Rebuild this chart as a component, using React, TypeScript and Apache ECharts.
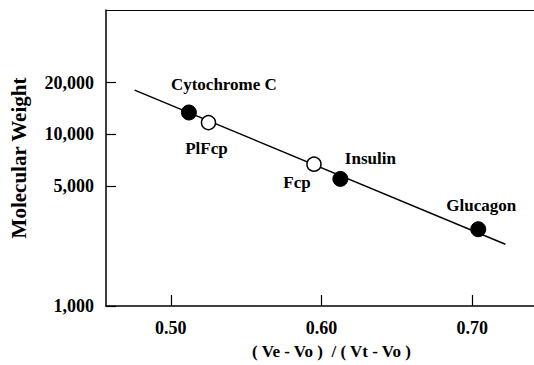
import React, { useEffect, useRef } from "react";
import * as echarts from "echarts";

// ---- data ----
const proteinNames = ["Cytochrome C", "PlFcp", "Fcp", "Insulin", "Glucagon"];
const elutionRatio = [0.512, 0.525, 0.595, 0.6125, 0.704];
const molecularWeight = [13400, 11700, 6700, 5500, 2800];
const isStandard = [true, false, false, true, true];
const fitLineX = [0.476, 0.722];
const fitLineY = [18100, 2290];
const yTickValues = [1000, 5000, 10000, 20000];
const xTickValues = [0.5, 0.6, 0.7];

// label placement (style only)
const labelOffsets: Record<string, [number, number]> = {
  "Cytochrome C": [35, -28],
  PlFcp: [-2, 26],
  Fcp: [-17, 18],
  Insulin: [30, -20],
  Glucagon: [3, -24],
};

const FONT = "Liberation Serif";

export default function App() {
  const ref = useRef<HTMLDivElement>(null);
  useEffect(() => {
    if (!ref.current) return;
    const chart = echarts.init(ref.current, undefined, { renderer: "svg" });
    const pts = proteinNames.map((n, i) => ({
      name: n,
      value: [elutionRatio[i], molecularWeight[i]],
      filled: isStandard[i],
    }));
    const mkData = (filled: boolean) =>
      pts
        .filter((p) => p.filled === filled)
        .map((p) => ({
          name: p.name,
          value: p.value,
          label: { offset: labelOffsets[p.name] },
        }));
    const labelStyle = {
      show: true,
      position: "inside",
      formatter: (p: any) => p.name,
      color: "#000",
      fontFamily: FONT,
      fontWeight: "bold",
      fontSize: 17,
    };
    chart.setOption({
      animation: false,
      backgroundColor: "#fff",
      textStyle: { fontFamily: FONT },
      grid: { left: 105, top: 10, right: 0, bottom: 55, containLabel: false },
      xAxis: [
        {
          type: "value",
          min: 0.457,
          max: 0.741,
          name: "( Ve - Vo )  / ( Vt - Vo )",
          nameLocation: "middle",
          nameGap: 37,
          nameTextStyle: {
            color: "#000",
            fontFamily: FONT,
            fontWeight: "bold",
            fontSize: 17,
            padding: [0, 0, 0, 23],
          },
          axisLine: { show: true, onZero: false, lineStyle: { color: "#000", width: 1.5 } },
          axisTick: {
            show: true,
            inside: true,
            length: 11,
            customValues: xTickValues,
            lineStyle: { color: "#000", width: 1.2 },
          },
          axisLabel: {
            customValues: xTickValues,
            formatter: (v: number) => v.toFixed(2),
            color: "#000",
            fontFamily: FONT,
            fontWeight: "bold",
            fontSize: 18,
            margin: 13,
          },
          splitLine: { show: false },
        },
        {
          type: "value",
          position: "top",
          min: 0.457,
          max: 0.741,
          axisLine: { show: true, onZero: false, lineStyle: { color: "#000", width: 1.2 } },
          axisTick: { show: false },
          axisLabel: { show: false },
          splitLine: { show: false },
        },
      ],
      yAxis: {
        type: "log",
        logBase: 10,
        min: 1000,
        max: 52970,
        name: "Molecular Weight",
        nameLocation: "middle",
        nameGap: 77,
        nameRotate: 90,
        nameTextStyle: {
          color: "#000",
          fontFamily: FONT,
          fontWeight: "bold",
          fontSize: 21,
        },
        axisLine: { show: true, onZero: false, lineStyle: { color: "#000", width: 1.5 } },
        axisTick: {
          show: true,
          inside: true,
          length: 10,
          customValues: yTickValues,
          lineStyle: { color: "#000", width: 1.2 },
        },
        axisLabel: {
          customValues: yTickValues,
          formatter: (v: number) => v.toLocaleString("en-US"),
          color: "#000",
          fontFamily: FONT,
          fontWeight: "bold",
          fontSize: 18,
          margin: 12,
        },
        splitLine: { show: false },
      },
      series: [
        {
          type: "line",
          data: fitLineX.map((x, i) => [x, fitLineY[i]]),
          showSymbol: false,
          symbol: "none",
          lineStyle: { color: "#000", width: 1.5 },
          z: 1,
        },
        {
          type: "scatter",
          data: mkData(true),
          symbol: "circle",
          symbolSize: 15,
          itemStyle: { color: "#000", borderColor: "#000", borderWidth: 1, opacity: 1 },
          label: labelStyle,
          z: 3,
        },
        {
          type: "scatter",
          data: mkData(false),
          symbol: "circle",
          symbolSize: 14,
          itemStyle: { color: "#fff", borderColor: "#000", borderWidth: 1.5, opacity: 1 },
          label: labelStyle,
          z: 3,
        },
      ],
    });
    return () => chart.dispose();
  }, []);
  return (
    <div
      ref={ref}
      style={{ position: "fixed", left: 0, top: 0, width: 534, height: 365, background: "#fff" }}
    />
  );
}
